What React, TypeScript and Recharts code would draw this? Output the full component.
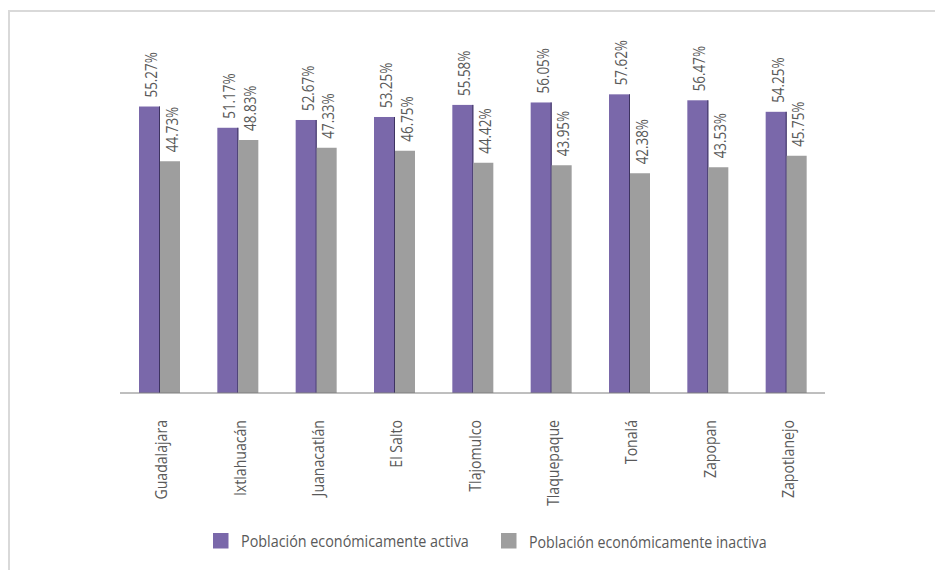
import React from "react";
import { BarChart, Bar, XAxis, YAxis, Legend, LabelList } from "recharts";

const categories = [
  "Guadalajara",
  "Ixtlahuacán",
  "Juanacatlán",
  "El Salto",
  "Tlajomulco",
  "Tlaquepaque",
  "Tonalá",
  "Zapopan",
  "Zapotlanejo",
];
const activa = [55.27, 51.17, 52.67, 53.25, 55.58, 56.05, 57.62, 56.47, 54.25];
const inactiva = [44.73, 48.83, 47.33, 46.75, 44.42, 43.95, 42.38, 43.53, 45.75];
const seriesNames = ["Población económicamente activa", "Población económicamente inactiva"];

const PURPLE = "#7a68aa";
const GRAY = "#9e9e9e";
const TEXT = "#595959";
const FONT = "'Open Sans', 'Noto Sans', sans-serif";

const data = categories.map((c, i) => ({ name: c, activa: activa[i], inactiva: inactiva[i] }));

const fmt = (v: number) => v.toFixed(2) + "%";

const ValueLabel = (props: any) => {
  const { x, y, width, value } = props;
  const cx = x + width / 2 + 1;
  const ty = y - 9;
  return (
    <text
      x={0}
      y={0}
      transform={`translate(${cx}, ${ty}) rotate(-90) scale(0.79, 1)`}
      textAnchor="start"
      dominantBaseline="central"
      fill={TEXT}
      fontSize={17}
      fontFamily={FONT}
    >
      {fmt(value)}
    </text>
  );
};

const CategoryTick = (props: any) => {
  const { x, y, payload } = props;
  const tx = x + 1.5;
  const ty = y + 27;
  return (
    <text
      x={0}
      y={0}
      transform={`translate(${tx}, ${ty}) rotate(-90) scale(0.83, 1)`}
      textAnchor="end"
      dominantBaseline="central"
      fill={TEXT}
      fontSize={17}
      fontFamily={FONT}
    >
      {payload.value}
    </text>
  );
};

const ActivaShape = (props: any) => {
  const { x, y, width, height, fill } = props;
  return (
    <g>
      <rect x={x} y={y} width={width} height={height} fill={fill} />
      <line x1={x + width - 0.5} y1={y} x2={x + width - 0.5} y2={y + height} stroke="#3d3360" strokeWidth={1} />
    </g>
  );
};

const LegendContent = () => (
  <svg width={925} height={22} style={{ display: "block" }}>
    <rect x={203} y={3} width={15.5} height={15.5} fill={PURPLE} />
    <text
      x={0}
      y={0}
      transform="translate(231, 11) scale(0.845, 1)"
      dominantBaseline="central"
      fill={TEXT}
      fontSize={17}
      fontFamily={FONT}
    >
      {seriesNames[0]}
    </text>
    <rect x={491} y={3} width={15.5} height={15.5} fill={GRAY} />
    <text
      x={0}
      y={0}
      transform="translate(519, 11) scale(0.835, 1)"
      dominantBaseline="central"
      fill={TEXT}
      fontSize={17}
      fontFamily={FONT}
    >
      {seriesNames[1]}
    </text>
  </svg>
);

export default function App() {
  return (
    <div
      style={{
        position: "absolute",
        left: 8,
        top: 10,
        width: 927,
        height: 560,
        borderTop: "2px solid #d9d9d9",
        borderLeft: "2px solid #d9d9d9",
        boxSizing: "border-box",
        background: "#fff",
      }}
    >
      <BarChart
        width={925}
        height={558}
        data={data}
        margin={{ top: 70, right: 110, left: 110, bottom: 18 }}
        barGap={0}
        barCategoryGap="23%"
      >
        <XAxis
          dataKey="name"
          tick={<CategoryTick />}
          tickLine={false}
          tickSize={0}
          tickMargin={0}
          axisLine={{ stroke: "#7f7f7f", strokeWidth: 1 }}
          height={137}
          interval={0}
        />
        <YAxis hide domain={[0, 60]} allowDataOverflow />
        <Legend verticalAlign="bottom" content={<LegendContent />} wrapperStyle={{ left: 0, width: 925 }} />
        <Bar dataKey="activa" name={seriesNames[0]} fill={PURPLE} barSize={21} shape={<ActivaShape />} isAnimationActive={false}>
          <LabelList dataKey="activa" content={<ValueLabel />} />
        </Bar>
        <Bar dataKey="inactiva" name={seriesNames[1]} fill={GRAY} barSize={20} isAnimationActive={false}>
          <LabelList dataKey="inactiva" content={<ValueLabel />} />
        </Bar>
      </BarChart>
    </div>
  );
}
